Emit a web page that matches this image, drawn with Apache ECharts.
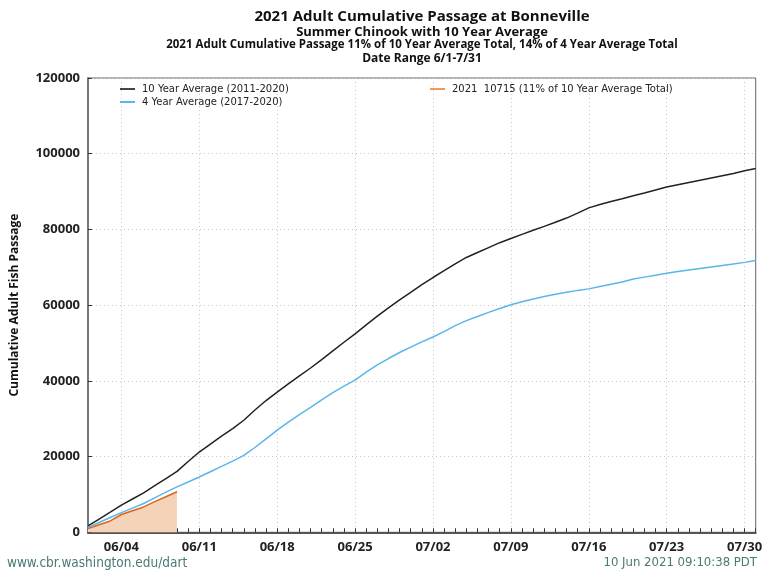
<!DOCTYPE html>
<html>
<head>
<meta charset="utf-8">
<script src="https://cdn.jsdelivr.net/npm/echarts@6/dist/echarts.min.js"></script>
<style>
html,body{margin:0;padding:0;background:#fff;}
#chart{width:763px;height:571px;}
</style>
</head>
<body>
<div id="chart"></div>
<script>
// Dates 6/1 .. 7/31
const dates = ["06/01","06/02","06/03","06/04","06/05","06/06","06/07","06/08","06/09","06/10",
"06/11","06/12","06/13","06/14","06/15","06/16","06/17","06/18","06/19","06/20",
"06/21","06/22","06/23","06/24","06/25","06/26","06/27","06/28","06/29","06/30",
"07/01","07/02","07/03","07/04","07/05","07/06","07/07","07/08","07/09","07/10",
"07/11","07/12","07/13","07/14","07/15","07/16","07/17","07/18","07/19","07/20",
"07/21","07/22","07/23","07/24","07/25","07/26","07/27","07/28","07/29","07/30","07/31"];

const tenYearAvg = [1700,3500,5300,7200,8800,10400,12300,14200,16100,18700,
21200,23300,25400,27400,29600,32300,34800,37000,39200,41300,
43400,45600,47900,50200,52400,54800,57100,59300,61400,63400,
65400,67300,69100,70900,72600,73900,75200,76500,77600,78700,
79800,80800,81900,83000,84300,85700,86600,87400,88100,88900,
89600,90400,91200,91800,92400,93000,93600,94200,94800,95500,96100];

const fourYearAvg = [1300,2600,3900,5200,6400,7600,9100,10600,12000,13300,
14600,16000,17400,18800,20300,22400,24700,27000,29100,31100,
33000,35000,36900,38600,40200,42300,44200,45900,47500,48900,
50300,51600,53000,54600,55900,57000,58100,59100,60100,60900,
61600,62300,62900,63400,63900,64300,64900,65500,66100,66900,
67400,67900,68400,68900,69300,69700,70100,70500,70900,71300,71800];

const year2021 = [1000,2000,3000,4700,5700,6700,8100,9400,10715];

const yTicks = [0,20000,40000,60000,80000,100000,120000];

const titleLines = [
  "2021 Adult Cumulative Passage at Bonneville",
  "Summer Chinook with 10 Year Average",
  "2021 Adult Cumulative Passage 11% of 10 Year Average Total, 14% of 4 Year Average Total",
  "Date Range 6/1-7/31"
];
const seriesNames = [
  "10 Year Average (2011-2020)",
  "4 Year Average (2017-2020)",
  "2021  10715 (11% of 10 Year Average Total)"
];

const chart = echarts.init(document.getElementById('chart'), null, {renderer:'canvas'});
const tf = "'Open Sans','Noto Sans',sans-serif";
const lf = "'DejaVu Sans',sans-serif";
const ff = "'DejaVu Sans Condensed','DejaVu Sans',sans-serif";
const isMajor = (i) => i % 7 === 3;

chart.setOption({
  animation:false,
  backgroundColor:'#ffffff',
  title: [
    {text:titleLines[0], left:422, top:9, padding:0, textAlign:'center', textStyle:{fontFamily:tf, fontWeight:'bold', fontSize:15, color:'#111'}},
    {text:titleLines[1], left:422, top:26, padding:0, textAlign:'center', textStyle:{fontFamily:tf, fontWeight:'bold', fontSize:13, color:'#111'}},
    {text:titleLines[2], left:422, top:39, padding:0, textAlign:'center', textStyle:{fontFamily:tf, fontWeight:'bold', fontSize:11.5, color:'#111'}},
    {text:titleLines[3], left:422, top:53, padding:0, textAlign:'center', textStyle:{fontFamily:tf, fontWeight:'bold', fontSize:12, color:'#111'}},
    {text:"www.cbr.washington.edu/dart", left:7, top:556, padding:0, textStyle:{fontFamily:ff, fontWeight:'normal', fontSize:13.5, color:'#4a7a74'}},
    {text:"10 Jun 2021 09:10:38 PDT", right:6, top:556, padding:0, textStyle:{fontFamily:ff, fontWeight:'normal', fontSize:13, color:'#4a7a74'}}
  ],
  legend: [
    {data:[seriesNames[0]], left:120, top:84, itemWidth:15, itemHeight:2, icon:'rect', padding:0,
     textStyle:{fontFamily:lf, fontSize:10, color:'#222', padding:[0,0,0,2]}},
    {data:[seriesNames[1]], left:120, top:97, itemWidth:15, itemHeight:2, icon:'rect', padding:0,
     textStyle:{fontFamily:lf, fontSize:10, color:'#222', padding:[0,0,0,2]}},
    {data:[seriesNames[2]], left:430, top:84, itemWidth:15, itemHeight:2, icon:'rect', padding:0,
     textStyle:{fontFamily:lf, fontSize:10, color:'#222', padding:[0,0,0,2]}}
  ],
  grid: {left:88, right:7.3, top:78, bottom:38.7, show:true, borderColor:'#666', borderWidth:1,
         containLabel:false, outerBoundsMode:'none'},
  xAxis: {
    type:'category', data:dates, boundaryGap:false,
    axisLine:{show:true, lineStyle:{color:'#555', width:2}},
    axisTick:{show:true, inside:true, length:4, interval:0, lineStyle:{color:'#333'}},
    axisLabel:{interval:(i)=>isMajor(i), fontFamily:tf, fontWeight:'bold', fontSize:13, color:'#222', margin:8},
    splitLine:{show:true, interval:(i)=>isMajor(i), lineStyle:{color:'#c8c8c8', type:[1,3], width:1}}
  },
  yAxis: {
    type:'value', min:0, max:120000, interval:20000,
    name:'Cumulative Adult Fish Passage', nameLocation:'middle', nameGap:67, nameRotate:90,
    nameTextStyle:{fontFamily:tf, fontWeight:'bold', fontSize:12, color:'#111'},
    axisLine:{show:true, lineStyle:{color:'#777', width:2}},
    axisTick:{show:true, inside:true, length:4, lineStyle:{color:'#333'}},
    axisLabel:{fontFamily:tf, fontWeight:'bold', fontSize:13, color:'#222', margin:8,
      formatter:(v)=> yTicks.includes(v) ? String(v) : ''},
    splitLine:{show:true, lineStyle:{color:'#c8c8c8', type:[1,3], width:1}}
  },
  series: [
    {name:seriesNames[0], type:'line', data:tenYearAvg, showSymbol:false, symbol:'none',
     lineStyle:{color:'#222222', width:1.5}, itemStyle:{color:'#444444'}, z:3},
    {name:seriesNames[1], type:'line', data:fourYearAvg, showSymbol:false, symbol:'none',
     lineStyle:{color:'#5ab6ea', width:1.5}, itemStyle:{color:'#5ab6ea'}, z:3},
    {name:seriesNames[2], type:'line', data:year2021, showSymbol:false, symbol:'none',
     lineStyle:{color:'#d9661a', width:1.5}, itemStyle:{color:'#ef9a5a'},
     areaStyle:{color:'#f4d3b8', opacity:1}, z:2}
  ]
});
</script>
</body>
</html>
